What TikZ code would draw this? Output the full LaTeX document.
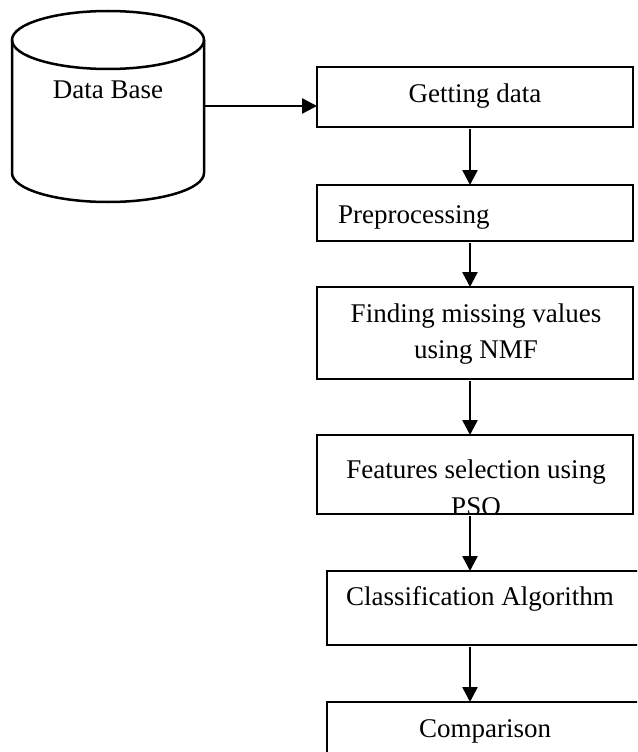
\documentclass[tikz,border=0pt]{standalone}
\usepackage{fontspec}
\setmainfont{Liberation Serif}
\usetikzlibrary{arrows.meta}
\begin{document}
\begin{tikzpicture}[x=1pt,y=-1pt,
  box/.style={draw, line width=2.5pt, rectangle, inner sep=0pt, outer sep=0pt},
  txt/.style={anchor=base, inner sep=0pt, font=\fontsize{27}{37}\selectfont},
  arr/.style={line width=2.5pt, -{Triangle[length=15pt,width=15pt]}, shorten <=2pt}]
\useasboundingbox (0,0) rectangle (637,752);
\clip (0,0) rectangle (637,752);
\fill[white] (0,0) rectangle (637,752);
% data base cylinder
\draw[line width=2.5pt] (108,40) ellipse [x radius=96pt, y radius=29pt];
\draw[line width=2.5pt] (12,40) -- (12,173) arc[start angle=180, end angle=360, x radius=96pt, y radius=29pt] -- (204,40);
\node[inner sep=0pt, outer sep=0pt, minimum width=192pt, minimum height=120pt] (db) at (108,106) {};
\node[txt] (tdb) at (108,99) {Data Base};
% boxes
\node[box, minimum width=316pt, minimum height=60pt] (b1) at (475,97) {};
\node[box, minimum width=316pt, minimum height=56pt] (b2) at (475,213) {};
\node[box, minimum width=316pt, minimum height=92pt] (b3) at (475,333) {};
\node[box, minimum width=316pt, minimum height=79pt] (b4) at (475,474.5) {};
\node[box, minimum width=333pt, minimum height=74pt] (b5) at (493.5,608) {};
\node[box, minimum width=333pt, minimum height=88pt] (b6) at (493.5,746) {};
% texts
\node[txt] (t1) at (475,102) {Getting data};
\node[txt, anchor=base west] (t2) at (338,223) {Preprocessing};
\node[txt] (t3a) at (476,322) {Finding missing values};
\node[txt] (t3b) at (476,358) {using NMF};
\node[txt] (t4a) at (476,478) {Features selection using};
\begin{scope}
\clip (318,436) rectangle (632,513);
\node[txt] (t4b) at (476,515) {PSO};
\end{scope}
\node[txt] (t5) at (480,605) {Classification Algorithm};
\node[txt] (t6) at (485,737) {Comparison};
% connectors
\coordinate (ax) at (470,0);
\draw[arr, shorten <=0pt] (db.east) -- (b1.west |- db.east);
\draw[arr] (b1.south -| ax) -- (b2.north -| ax);
\draw[arr] (b2.south -| ax) -- (b3.north -| ax);
\draw[arr] (b3.south -| ax) -- (b4.north -| ax);
\draw[arr] (b4.south -| ax) -- (b5.north -| ax);
\draw[arr] (b5.south -| ax) -- (b6.north -| ax);
\end{tikzpicture}
\end{document}
